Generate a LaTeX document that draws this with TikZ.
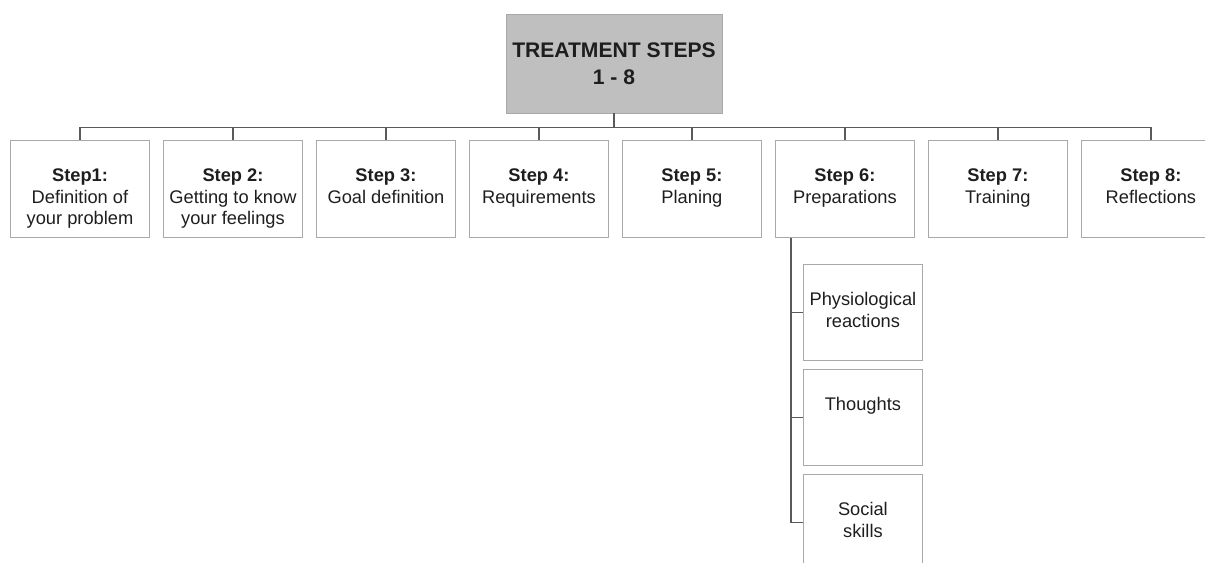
\documentclass[tikz,border=0pt]{standalone}
\usepackage{fontspec}
\setmainfont{Liberation Sans}
\usetikzlibrary{positioning}

\definecolor{titlegray}{HTML}{BFBFBF}
\definecolor{framegray}{HTML}{A9A9A9}
\definecolor{linegray}{HTML}{5A5A5A}
\definecolor{inkgray}{HTML}{1E1E1E}

\newcommand{\boxtext}[3]{\parbox[c][#1][t]{#2}{\centering\vspace*{0.7cm}#3}}

\tikzset{
  stepbox/.style={draw=framegray,line width=0.7pt,minimum width=3.475cm,minimum height=2.425cm,inner sep=0pt,
    text=inkgray,font=\fontsize{13}{15.5}\selectfont},
  subbox/.style={stepbox,minimum width=2.975cm,minimum height=2.4cm},
  link/.style={draw=linegray,line width=1pt}
}

\begin{document}
\begin{tikzpicture}
  \useasboundingbox (0,0) rectangle (30.125,-14.05);
  \node[fill=titlegray,draw=framegray,minimum width=5.4cm,minimum height=2.475cm,align=center,
    text=inkgray,font=\fontsize{15}{19}\selectfont\bfseries] (title) at (15.35,-1.59) {TREATMENT STEPS\\1 - 8};

  \node[stepbox,anchor=north west] (step 1) at (0.25,-3.5) {\boxtext{2.425cm}{3.4cm}{\textbf{Step1:}\\ Definition of\\ your problem}};
  \node[stepbox,right=0.325cm of step 1] (step 2) {\boxtext{2.425cm}{3.4cm}{\textbf{Step 2:}\\ Getting to know\\ your feelings}};
  \node[stepbox,right=0.325cm of step 2] (step 3) {\boxtext{2.425cm}{3.4cm}{\textbf{Step 3:}\\ Goal definition}};
  \node[stepbox,right=0.325cm of step 3] (step 4) {\boxtext{2.425cm}{3.4cm}{\textbf{Step 4:}\\ Requirements}};
  \node[stepbox,right=0.325cm of step 4] (step 5) {\boxtext{2.425cm}{3.4cm}{\textbf{Step 5:}\\ Planing}};
  \node[stepbox,right=0.325cm of step 5] (step 6) {\boxtext{2.425cm}{3.4cm}{\textbf{Step 6:}\\ Preparations}};
  \node[stepbox,right=0.325cm of step 6] (step 7) {\boxtext{2.425cm}{3.4cm}{\textbf{Step 7:}\\ Training}};
  \node[stepbox,right=0.325cm of step 7] (step 8) {\boxtext{2.425cm}{3.4cm}{\textbf{Step 8:}\\ Reflections}};

  \node[subbox,anchor=north west,xshift=0.7cm,yshift=-0.65cm] (physio) at (step 6.south west) {\boxtext{2.4cm}{2.9cm}{Physiological\\ reactions}};
  \node[subbox,below=0.2cm of physio] (thoughts) {\boxtext{2.4cm}{2.9cm}{Thoughts}};
  \node[subbox,below=0.2cm of thoughts] (social) {\boxtext{2.4cm}{2.9cm}{Social\\ skills}};

  % bus from the title down to each step
  \draw[link] (title.south) -- ++(0,-0.35) coordinate (bus);
  \draw[link] (bus) -| (step 1.north);
  \draw[link] (bus) -| (step 2.north);
  \draw[link] (bus) -| (step 3.north);
  \draw[link] (bus) -| (step 4.north);
  \draw[link] (bus) -| (step 5.north);
  \draw[link] (bus) -| (step 6.north);
  \draw[link] (bus) -| (step 7.north);
  \draw[link] (bus) -| (step 8.north);

  % preparations split into three parts
  \draw[link] ([xshift=0.4cm]step 6.south west) |- (physio.west);
  \draw[link] ([xshift=0.4cm]step 6.south west) |- (thoughts.west);
  \draw[link] ([xshift=0.4cm]step 6.south west) |- (social.west);
\end{tikzpicture}
\end{document}
